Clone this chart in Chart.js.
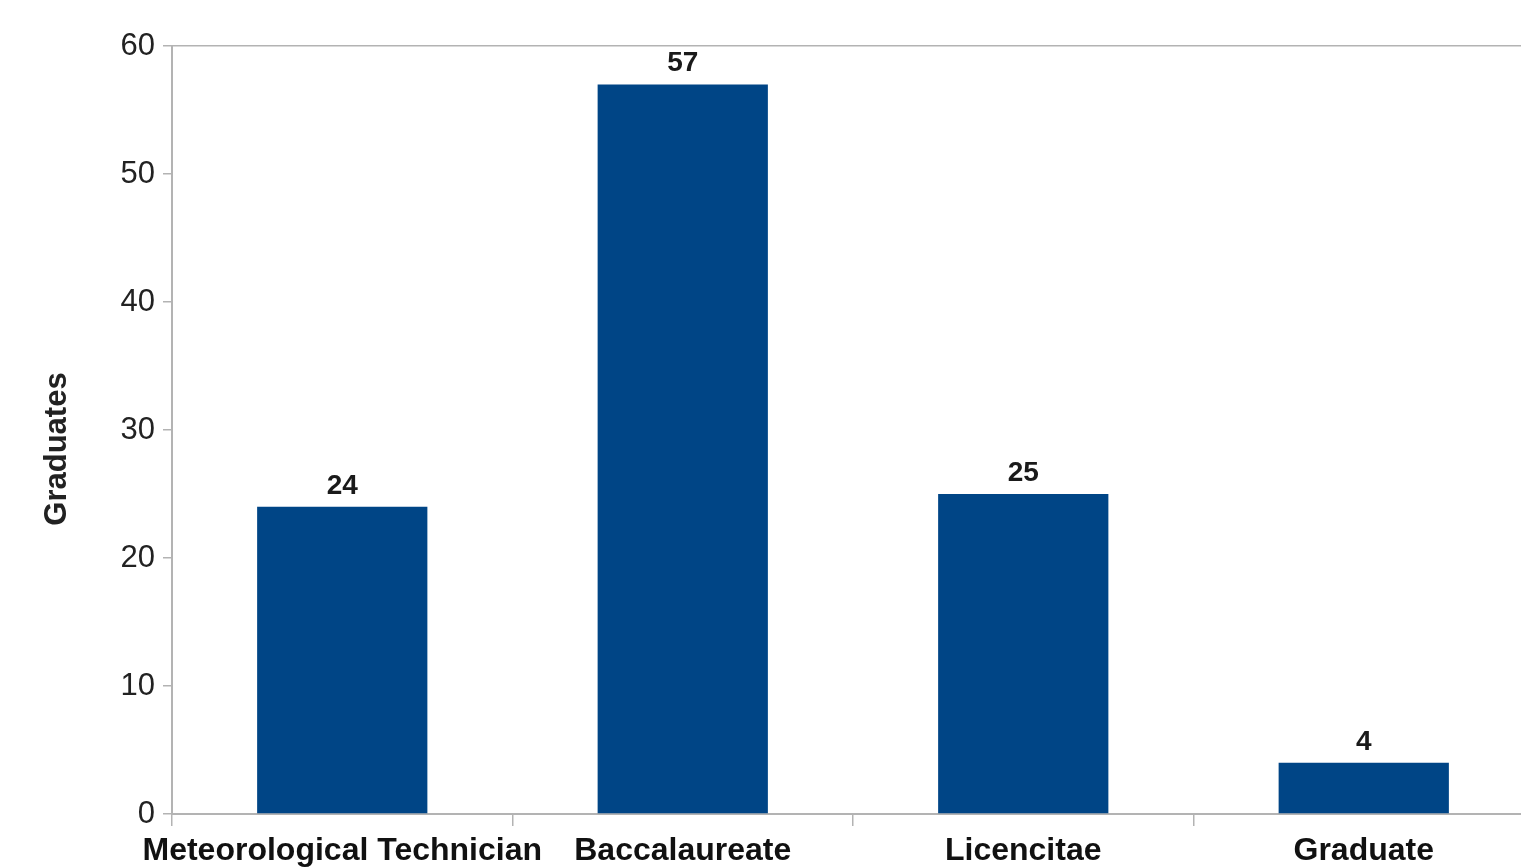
<!DOCTYPE html>
<html>
<head>
<meta charset="utf-8">
<script src="https://cdn.jsdelivr.net/npm/chart.js@4"></script>
<style>
  html, body { margin: 0; padding: 0; background: #fff; overflow: hidden; }
  #wrap { position: absolute; left: 0; top: 0; width: 1534px; height: 867px; }
</style>
</head>
<body>
<div id="wrap"><canvas id="myChart"></canvas></div>
<script>
  // Data
  const categories = ['Meteorological Technician', 'Baccalaureate', 'Licencitae', 'Graduate'];
  const graduates = [24, 57, 25, 4];
  const yTicks = [0, 10, 20, 30, 40, 50, 60];
  const yTitle = 'Graduates';

  const BAR_BLUE = '#004586';
  const AXIS_GREY = '#b3b3b3';
  const FONT = '"Liberation Sans", Arial, sans-serif';

  // Value labels above each bar, plus the y axis title (sits a bit below centre in the original)
  const valueLabels = {
    id: 'valueLabels',
    afterDatasetsDraw(chart) {
      const ctx = chart.ctx;
      const meta = chart.getDatasetMeta(0);
      ctx.save();
      ctx.font = 'bold 28px ' + FONT;
      ctx.fillStyle = '#1a1a1a';
      ctx.textAlign = 'center';
      ctx.textBaseline = 'bottom';
      meta.data.forEach((bar, i) => {
        ctx.fillText(String(graduates[i]), bar.x, bar.y - 7);
      });

      const area = chart.chartArea;
      ctx.translate(57, (area.top + area.bottom) / 2 + 19);
      ctx.rotate(-Math.PI / 2);
      ctx.font = 'bold 31px ' + FONT;
      ctx.fillStyle = '#222';
      ctx.textBaseline = 'middle';
      ctx.fillText(yTitle, 0, 0);
      ctx.restore();
    }
  };

  const canvas = document.getElementById('myChart');
  new Chart(canvas, {
    type: 'bar',
    data: {
      labels: categories,
      datasets: [{
        label: yTitle,
        data: graduates,
        backgroundColor: BAR_BLUE,
        borderWidth: 0,
        categoryPercentage: 1,
        barPercentage: 0.5
      }]
    },
    options: {
      responsive: true,
      maintainAspectRatio: false,
      animation: false,
      layout: { padding: { top: 46, left: 0, right: 0, bottom: 0 } },
      plugins: {
        legend: { display: false },
        tooltip: { enabled: false },
        title: { display: false }
      },
      scales: {
        x: {
          offset: true,
          grid: {
            offset: true,
            drawOnChartArea: false,
            tickLength: 12,
            tickColor: AXIS_GREY,
            lineWidth: 1.5
          },
          border: { color: AXIS_GREY, width: 2 },
          ticks: {
            autoSkip: false,
            maxRotation: 0,
            minRotation: 0,
            padding: 6,
            color: '#111',
            font: { family: FONT, size: 32, weight: 'bold' }
          },
          afterFit(scale) { scale.height = 53; }
        },
        y: {
          min: 0,
          max: 60,
          afterBuildTicks(scale) { scale.ticks = yTicks.map(v => ({ value: v })); },
          grid: {
            color: (c) => (c.tick && c.tick.value === 60 ? AXIS_GREY : 'rgba(0,0,0,0)'),
            tickColor: AXIS_GREY,
            tickLength: 9,
            lineWidth: 1.5
          },
          border: { color: AXIS_GREY, width: 2 },
          ticks: {
            padding: 8,
            color: '#222',
            font: { family: FONT, size: 31 }
          },
          afterFit(scale) { scale.width = 172; }
        }
      }
    },
    plugins: [valueLabels]
  });
</script>
</body>
</html>
